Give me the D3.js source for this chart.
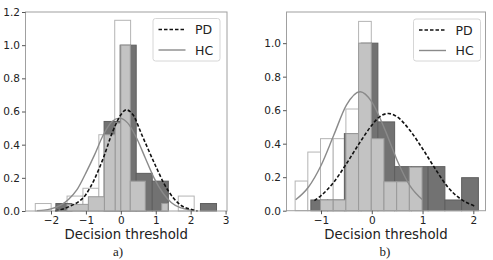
<!DOCTYPE html>
<html><head><meta charset="utf-8">
<script src="https://cdn.jsdelivr.net/npm/d3@7"></script>
<style>
html,body{margin:0;padding:0;background:#fff;}
svg{display:block;}
</style></head>
<body>
<svg id="chart" width="493" height="260"></svg>
<script>
// ---------- Panel a data ----------
const aYTicks = [0.0, 0.2, 0.4, 0.6, 0.8, 1.0, 1.2];
const aXTicks = [-2, -1, 0, 1, 2, 3];
const aWhiteStart = -2.45, aWhiteWidth = 0.455;
const aWhiteH = [0.045, 0, 0.09, 0.137, 0.46, 1.15, 0.18, 0, 0, 0.09];
const aDarkStart = -1.86, aDarkWidth = 0.46;
const aDarkH = [0.045, 0, 0, 0.54, 1.0, 0.227, 0.18, 0, 0, 0.045];
const aLightX0 = [-1.54, -0.93, -0.47, -0.16, 0.00, 0.27, 1.17];
const aLightX1 = [-0.93, -0.47, -0.16, 0.00, 0.27, 0.70, 1.35];
const aLightH  = [0.04, 0.086, 0.46, 0.53, 1.00, 0.18, 0.045];
const aPDx = [-1.88, -1.5, -1.0, -0.5, -0.25, 0.0, 0.15, 0.35, 0.6, 1.0, 1.25, 1.5, 1.75, 2.0, 2.2];
const aPDy = [0.0, 0.025, 0.10, 0.32, 0.47, 0.58, 0.61, 0.58, 0.46, 0.27, 0.16, 0.08, 0.03, 0.01, 0.0];
const aHCx = [-2.4, -2.2, -2.0, -1.75, -1.5, -1.25, -1.0, -0.75, -0.5, -0.25, -0.05, 0.2, 0.45, 0.7, 0.95, 1.2, 1.45, 1.7, 1.95, 2.1];
const aHCy = [0.002, 0.005, 0.013, 0.032, 0.07, 0.13, 0.23, 0.34, 0.46, 0.54, 0.56, 0.53, 0.44, 0.32, 0.2, 0.11, 0.05, 0.02, 0.007, 0.003];

// ---------- Panel b data ----------
const bYTicks = [0.0, 0.2, 0.4, 0.6, 0.8, 1.0];
const bXTicks = [-1, 0, 1, 2];
const bWhiteStart = -1.51, bWhiteWidth = 0.25;
const bWhiteH = [0.177, 0.35, 0.43, 0.43, 0.607, 1.13];
const bLightStart = -1.51, bLightWidth = 0.25;
const bLightH = [0, 0, 0.064, 0.064, 0.46, 1.0, 0.43, 0.173, 0.173, 0.26];
const bDarkStart = -1.20, bDarkWidth = 0.33;
const bDarkH = [0.064, 0.064, 0.46, 1.0, 0.53, 0.263, 0.263, 0.263, 0.064, 0.197];
const bPDx = [-1.13, -1.0, -0.75, -0.5, -0.25, 0.0, 0.15, 0.33, 0.5, 0.75, 1.0, 1.25, 1.5, 1.75, 2.05];
const bPDy = [0.06, 0.09, 0.17, 0.28, 0.40, 0.51, 0.56, 0.58, 0.56, 0.48, 0.37, 0.25, 0.14, 0.07, 0.025];
const bHCx = [-1.5, -1.25, -1.0, -0.75, -0.5, -0.23, 0.0, 0.25, 0.5, 0.75, 1.0];
const bHCy = [0.065, 0.14, 0.27, 0.45, 0.63, 0.71, 0.65, 0.49, 0.30, 0.15, 0.065];

const legendLabels = ["PD", "HC"];
const xLabel = "Decision threshold";
const captions = ["a)", "b)"];

function binsFrom(start, width, heights) {
  return heights.map((h, i) => ({x0: start + i * width, x1: start + (i + 1) * width, h}));
}
function barsFrom(x0s, x1s, hs) {
  return hs.map((h, i) => ({x0: x0s[i], x1: x1s[i], h}));
}

const panels = [
  {
    left: 25.5, right: 227, top: 12, bottom: 211,
    xDomain: [-2.73, 3.04], yDomain: [0, 1.2],
    xTicks: aXTicks, yTicks: aYTicks,
    white: binsFrom(aWhiteStart, aWhiteWidth, aWhiteH),
    dark: binsFrom(aDarkStart, aDarkWidth, aDarkH),
    light: barsFrom(aLightX0, aLightX1, aLightH),
    pd: aPDx.map((x, i) => [x, aPDy[i]]),
    hc: aHCx.map((x, i) => [x, aHCy[i]]),
    legend: {x: 153, y: 18.5, w: 67, h: 42.5},
    caption: captions[0], capX: 118
  },
  {
    left: 286.5, right: 485.5, top: 12, bottom: 210.7,
    xDomain: [-1.68, 2.24], yDomain: [0, 1.186],
    xTicks: bXTicks, yTicks: bYTicks,
    white: binsFrom(bWhiteStart, bWhiteWidth, bWhiteH),
    dark: binsFrom(bDarkStart, bDarkWidth, bDarkH),
    light: binsFrom(bLightStart, bLightWidth, bLightH),
    pd: bPDx.map((x, i) => [x, bPDy[i]]),
    hc: bHCx.map((x, i) => [x, bHCy[i]]),
    legend: {x: 413.5, y: 19, w: 67, h: 42},
    caption: captions[1], capX: 385
  }
];

const svg = d3.select("#chart");
const fmtY = d3.format(".1f");
const fmtX = d3.format("d");

panels.forEach(p => {
  const x = d3.scaleLinear().domain(p.xDomain).range([p.left, p.right]);
  const y = d3.scaleLinear().domain(p.yDomain).range([p.bottom, p.top]);
  const g = svg.append("g");

  function drawBars(data, fill, stroke) {
    g.append("g").selectAll("rect").data(data.filter(d => d.h > 0)).join("rect")
      .attr("x", d => x(d.x0)).attr("width", d => x(d.x1) - x(d.x0))
      .attr("y", d => y(d.h)).attr("height", d => y(0) - y(d.h))
      .attr("fill", fill).attr("stroke", stroke).attr("stroke-width", 1);
  }
  drawBars(p.white, "#ffffff", "#b4b4b4");
  drawBars(p.dark, "#727272", "#5e5e5e");
  drawBars(p.light, "#c3c3c3", "#9a9a9a");

  const line = d3.line().x(d => x(d[0])).y(d => y(d[1])).curve(d3.curveMonotoneX);
  g.append("path").datum(p.hc).attr("d", line).attr("fill", "none")
    .attr("stroke", "#8a8a8a").attr("stroke-width", 1.4);
  g.append("path").datum(p.pd).attr("d", line).attr("fill", "none")
    .attr("stroke", "#111").attr("stroke-width", 1.6).attr("stroke-dasharray", "3.5,2");

  // frame
  g.append("rect").attr("x", p.left).attr("y", p.top)
    .attr("width", p.right - p.left).attr("height", p.bottom - p.top)
    .attr("fill", "none").attr("stroke", "#a0a0a0").attr("stroke-width", 1);

  // axes
  const xAxis = d3.axisBottom(x).tickValues(p.xTicks).tickFormat(fmtX).tickSizeInner(3.5).tickSizeOuter(0).tickPadding(2);
  const yAxis = d3.axisLeft(y).tickValues(p.yTicks).tickFormat(fmtY).tickSizeInner(3.5).tickSizeOuter(0).tickPadding(2);
  const gx = g.append("g").attr("transform", `translate(0,${p.bottom})`).call(xAxis);
  const gy = g.append("g").attr("transform", `translate(${p.left},0)`).call(yAxis);
  [gx, gy].forEach(a => {
    a.select(".domain").remove();
    a.selectAll(".tick line").attr("stroke", "#555");
    a.selectAll(".tick text").attr("fill", "#222")
      .style("font-family", "DejaVu Sans").style("font-size", "10.5px");
  });

  // x label
  g.append("text").attr("x", (p.left + p.right) / 2).attr("y", 238.5)
    .attr("text-anchor", "middle").style("font-family", "DejaVu Sans")
    .style("font-size", "13.3px").attr("fill", "#222").text(xLabel);
  // caption
  g.append("text").attr("x", p.capX).attr("y", 256)
    .attr("text-anchor", "middle").style("font-family", "Liberation Serif")
    .style("font-size", "13px").attr("fill", "#222").text(p.caption);

  // legend
  const L = p.legend;
  const lg = g.append("g");
  lg.append("rect").attr("x", L.x).attr("y", L.y).attr("width", L.w).attr("height", L.h)
    .attr("rx", 2.5).attr("fill", "#fff").attr("fill-opacity", 0.85)
    .attr("stroke", "#d6d6d6").attr("stroke-width", 1);
  const styles = [
    {stroke: "#111", dash: "3.5,2", w: 1.6},
    {stroke: "#8a8a8a", dash: null, w: 1.4}
  ];
  legendLabels.forEach((lab, i) => {
    const yy = L.y + 11 + i * 20.5;
    lg.append("line").attr("x1", L.x + 5.5).attr("x2", L.x + 32.5).attr("y1", yy).attr("y2", yy)
      .attr("stroke", styles[i].stroke).attr("stroke-width", styles[i].w)
      .attr("stroke-dasharray", styles[i].dash);
    lg.append("text").attr("x", L.x + 42).attr("y", yy + 4.5)
      .style("font-family", "DejaVu Sans").style("font-size", "12.5px")
      .attr("fill", "#222").text(lab);
  });
});
</script>
</body></html>
